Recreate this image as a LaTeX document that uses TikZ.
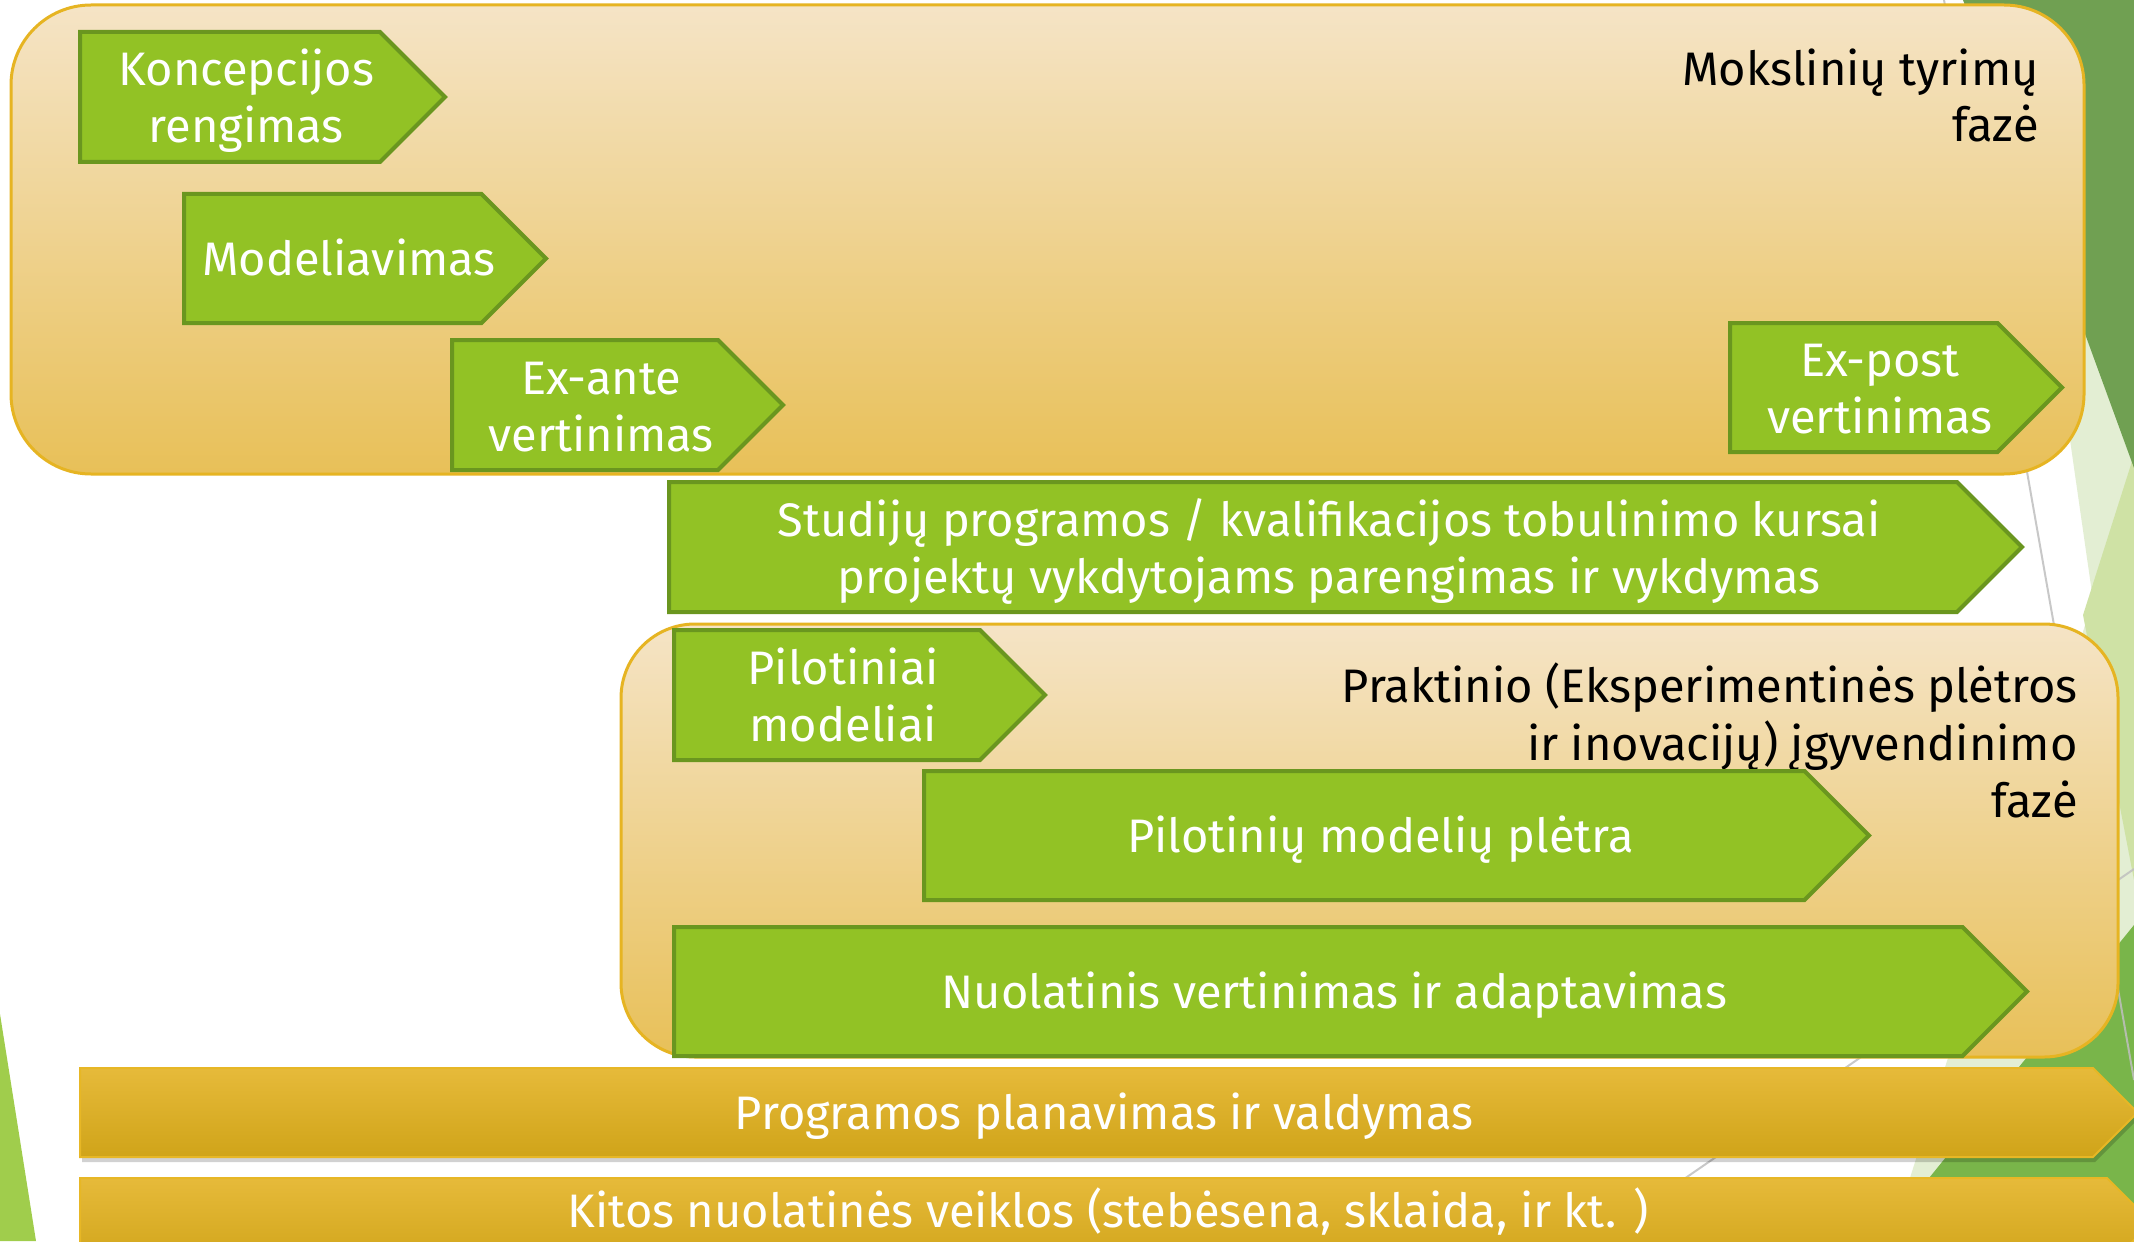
\documentclass[tikz,border=0pt]{standalone}
\usepackage{fontspec}
\setmainfont{Fira Sans}
\definecolor{chevfill}{HTML}{92C225}
\definecolor{chevline}{HTML}{6A961F}
\definecolor{boxline}{HTML}{E6B422}
\definecolor{boxtop}{HTML}{F5E4C6}
\definecolor{boxbot}{HTML}{E8C058}
\definecolor{bartop}{HTML}{E6BA3A}
\definecolor{barbot}{HTML}{D0A419}
\definecolor{barline}{HTML}{E7B725}
\definecolor{dkgreen}{HTML}{70A052}
\definecolor{mdgreen}{HTML}{79B54A}
\definecolor{ltgreen}{HTML}{CFE2A5}
\definecolor{vltgreen}{HTML}{E3EED3}
\definecolor{lfgreen}{HTML}{A0CD4C}
\definecolor{greyline}{HTML}{BFBFBF}
\tikzset{
  chevshape/.style={fill=chevfill, draw=chevline, line width=2pt, line join=miter},
  chevtext/.style={text=white, font=\fontsize{23.5}{28.5}\selectfont, anchor=base, inner sep=0pt},
  phasebox/.style={draw=boxline, line width=1.5pt, top color=boxtop, bottom color=boxbot},
  phasetext/.style={text=black, font=\fontsize{23.5}{28.5}\selectfont, anchor=base east, inner sep=0pt},
  barshape/.style={draw=barline, line width=1pt, top color=bartop, bottom color=barbot},
  barshadow/.style={fill=black, opacity=0.18},
  barlabel/.style={text=white, font=\fontsize{23.5}{28.5}\selectfont, anchor=base, inner sep=0pt},
}
% name, left, top, tip, bottom, text
\newcommand\chevone[6]{%
  \path[chevshape] (#2,#3) -- ({#4-(#5-#3)/2},#3) -- (#4,{(#3+#5)/2}) -- ({#4-(#5-#3)/2},#5) -- (#2,#5) -- cycle;
  \node[chevtext] (#1) at ({(#2+#4-(#5-#3)/4)/2},{(#3+#5)/2+16.5}) {#6};
}
% name, left, top, tip, bottom, line1, line2
\newcommand\chevtwo[7]{%
  \path[chevshape] (#2,#3) -- ({#4-(#5-#3)/2},#3) -- (#4,{(#3+#5)/2}) -- ({#4-(#5-#3)/2},#5) -- (#2,#5) -- cycle;
  \node[chevtext] (#1a) at ({(#2+#4-(#5-#3)/4)/2},{(#3+#5)/2-11}) {#6};
  \node[chevtext] (#1b) at ({(#2+#4-(#5-#3)/4)/2},{(#3+#5)/2+46}) {#7};
}
\begin{document}
\begin{tikzpicture}[x=0.5pt,y=-0.5pt]
\path[use as bounding box] (0,0) rectangle (2134,1241);
\clip (0,0) rectangle (2134,1241);
\fill[white] (0,0) rectangle (2134,1241);
% background decorations
\fill[vltgreen] (2060,300) -- (2134,300) -- (2134,1241) -- (1890,1241) -- (2093,600) -- (2070,440) -- cycle;
\fill[ltgreen] (2134,455) -- (2083,615) -- (2134,880) -- cycle;
\fill[dkgreen] (1963,0) -- (2134,0) -- (2134,468) -- cycle;
\fill[mdgreen] (2134,925) -- (1878,1241) -- (2134,1241) -- cycle;
\fill[lfgreen] (0,1014) -- (36,1241) -- (0,1241) -- cycle;
\draw[greyline, line width=1pt, opacity=0.85] (1944,0) -- (2134,1080);
\draw[greyline, line width=1pt, opacity=0.85] (2134,869) -- (1594,1241);
% research phase
\path[phasebox, rounded corners=40pt] (11,5) rectangle (2084,474);
\node[phasetext] (ph1a) at (2039,86) {Mokslinių tyrimų};
\node[phasetext] (ph1b) at (2039,142) {fazė};
\chevtwo{konc}{80}{32}{445}{162}{Koncepcijos}{rengimas}
\chevone{model}{184}{194}{546}{323}{Modeliavimas}
\chevtwo{exante}{452}{340}{783}{470}{Ex-ante}{vertinimas}
\chevtwo{expost}{1730}{323}{2062}{452}{Ex-post}{vertinimas}
\chevtwo{stud}{669}{482}{2022}{612}{Studijų programos / kvalifikacijos tobulinimo kursai}{projektų vykdytojams parengimas ir vykdymas}
% practical phase
\path[phasebox, rounded corners=37pt] (621,624) rectangle (2118,1057);
\node[phasetext] (ph2a) at (2078,702) {Praktinio (Eksperimentinės plėtros};
\node[phasetext] (ph2b) at (2078,760) {ir inovacijų) įgyvendinimo};
\node[phasetext] (ph2c) at (2078,817) {fazė};
\chevtwo{pilot}{674}{630}{1045}{760}{Pilotiniai}{modeliai}
\chevone{plet}{924}{771}{1869}{900}{Pilotinių modelių plėtra}
\chevone{nuol}{674}{927}{2027}{1056}{Nuolatinis vertinimas ir adaptavimas}
% bars
\path[barshadow] (82,1073) -- (2095,1073) -- (2139.5,1117.5) -- (2095,1162) -- (82,1162) -- cycle;
\path[barshape] (80,1068) -- (2093,1068) -- (2137.5,1112.5) -- (2093,1157) -- (80,1157) -- cycle;
\node[barlabel] (prog) at (1104,1129) {Programos planavimas ir valdymas};
\path[barshadow] (82,1183) -- (2109,1183) -- (2153.5,1227.5) -- (2109,1272) -- (82,1272) -- cycle;
\path[barshape] (80,1178) -- (2107,1178) -- (2151.5,1222.5) -- (2107,1267) -- (80,1267) -- cycle;
\node[barlabel] (kitos) at (1108,1227) {Kitos nuolatinės veiklos (stebėsena, sklaida, ir kt. )};
\end{tikzpicture}
\end{document}
